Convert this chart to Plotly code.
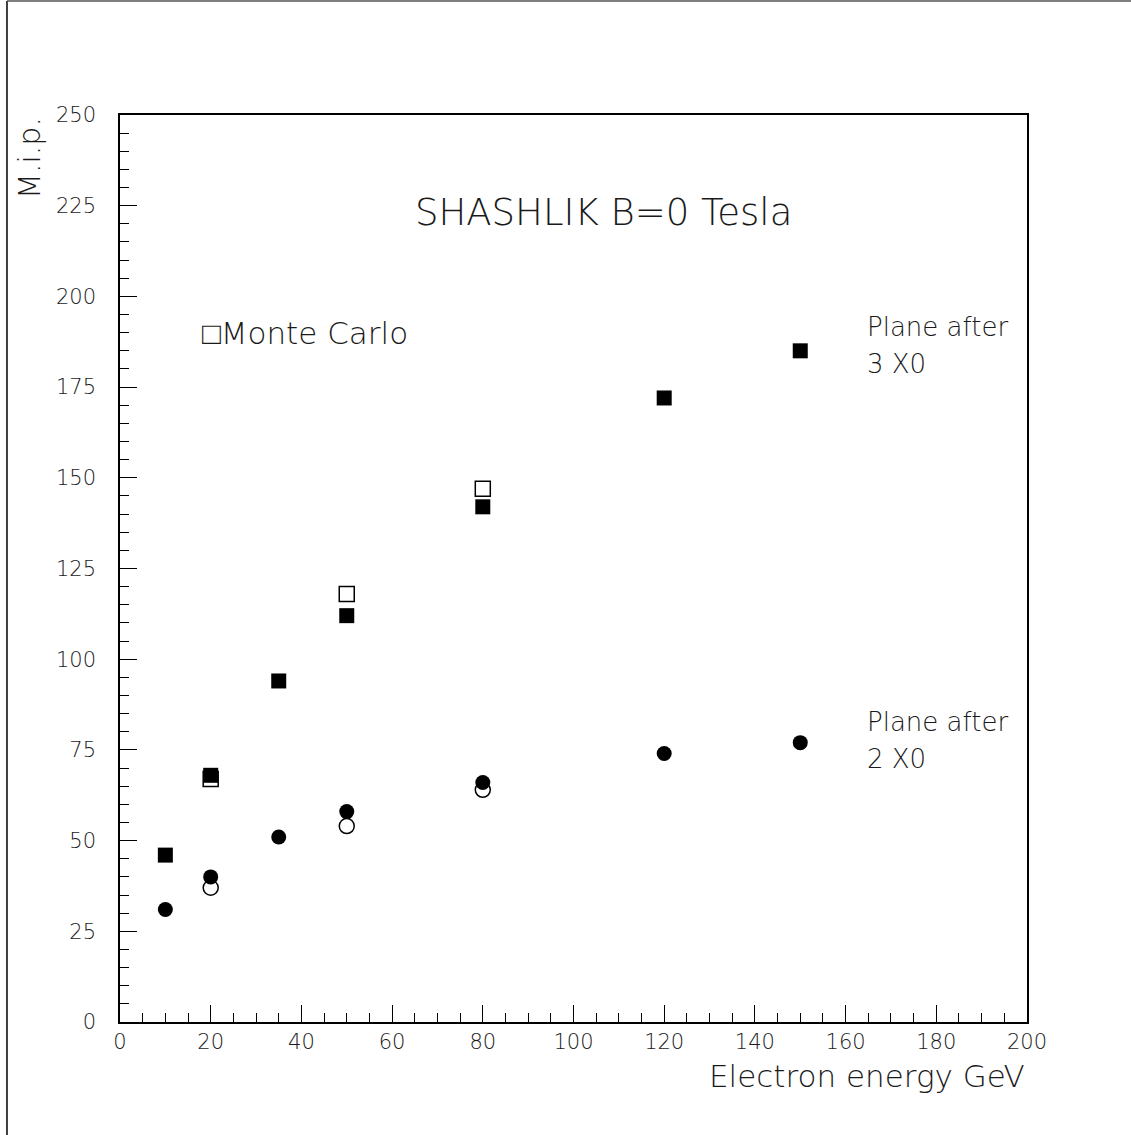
import plotly.graph_objects as go

# Data
energy = [10, 20, 35, 50, 80, 120, 150]
mip_3x0 = [46, 68, 94, 112, 142, 172, 185]
mip_2x0 = [31, 40, 51, 58, 66, 74, 77]

mc_energy = [20, 50, 80]
mc_3x0 = [67, 118, 147]
mc_2x0 = [37, 54, 64]

FONT = "DejaVu Sans"
W = 200
TXT = "#1a1a1a"


def f(size):
    return dict(family=FONT, size=size, color=TXT, weight=W)


fig = go.Figure()

fig.add_trace(go.Scatter(x=mc_energy, y=mc_3x0, mode="markers",
                         marker=dict(symbol="square", size=15, color="white",
                                     line=dict(color="black", width=1.5)),
                         showlegend=False, hoverinfo="skip"))
fig.add_trace(go.Scatter(x=mc_energy, y=mc_2x0, mode="markers",
                         marker=dict(symbol="circle", size=15, color="white",
                                     line=dict(color="black", width=1.5)),
                         showlegend=False, hoverinfo="skip"))
fig.add_trace(go.Scatter(x=energy, y=mip_3x0, mode="markers",
                         marker=dict(symbol="square", size=15, color="black",
                                     line=dict(width=0)),
                         showlegend=False))
fig.add_trace(go.Scatter(x=energy, y=mip_2x0, mode="markers",
                         marker=dict(symbol="circle", size=15, color="black",
                                     line=dict(width=0)),
                         showlegend=False))

axis_common = dict(showgrid=False, zeroline=False, showline=True, linecolor="black",
                   linewidth=1.5, mirror=True, ticks="inside", tickcolor="black",
                   tickwidth=1.2, ticklen=17, tickfont=f(21))

fig.update_xaxes(range=[0, 200], dtick=20, tick0=0, ticklabelstandoff=0,
                 minor=dict(dtick=5, ticks="inside", ticklen=9, tickcolor="black", tickwidth=1.2),
                 **axis_common)
fig.update_yaxes(range=[0, 250], dtick=25, tick0=0, ticklabelstandoff=18,
                 minor=dict(dtick=5, ticks="inside", ticklen=9, tickcolor="black", tickwidth=1.2),
                 **axis_common)

ann = []
ann.append(dict(x=106.6, y=223, xref="x", yref="y", text="SHASHLIK B=0 Tesla",
                showarrow=False, xanchor="center", yanchor="middle", font=f(37)))
ann.append(dict(x=17.6, y=190, xref="x", yref="y", text="□Monte Carlo",
                showarrow=False, xanchor="left", yanchor="middle", font=f(31)))
ann.append(dict(x=164.2, y=191.6, xref="x", yref="y", text="Plane after",
                showarrow=False, xanchor="left", yanchor="middle", font=f(26)))
ann.append(dict(x=164.2, y=181.4, xref="x", yref="y", text="3 X0",
                showarrow=False, xanchor="left", yanchor="middle", font=f(26)))
ann.append(dict(x=164.2, y=82.6, xref="x", yref="y", text="Plane after",
                showarrow=False, xanchor="left", yanchor="middle", font=f(26)))
ann.append(dict(x=164.2, y=72.4, xref="x", yref="y", text="2 X0",
                showarrow=False, xanchor="left", yanchor="middle", font=f(26)))
ann.append(dict(x=1.0, y=-0.0600, xref="paper", yref="paper", text="Electron energy GeV",
                showarrow=False, xanchor="right", yanchor="middle", font=f(31)))
ann.append(dict(x=-0.1004, y=1.0, xref="paper", yref="paper", text="M.i.p.",
                showarrow=False, xanchor="center", yanchor="top", textangle=-90, font=f(30)))

shapes = [
    dict(type="line", xref="paper", yref="paper", x0=-0.1246, x1=-0.1246, y0=-0.13, y1=1.1257,
         line=dict(color="black", width=1.5)),
    dict(type="line", xref="paper", yref="paper", x0=-0.1246, x1=1.12, y0=1.1257, y1=1.1257,
         line=dict(color="#555555", width=1.5)),
]

fig.update_layout(width=1131, height=1135,
                  margin=dict(l=120, r=104, t=115, b=113),
                  paper_bgcolor="white", plot_bgcolor="white",
                  annotations=ann, shapes=shapes, showlegend=False)

fig.write_html("out.html", config={"displayModeBar": False},
               post_script="document.body.style.margin='0';document.body.style.overflow='hidden';")
